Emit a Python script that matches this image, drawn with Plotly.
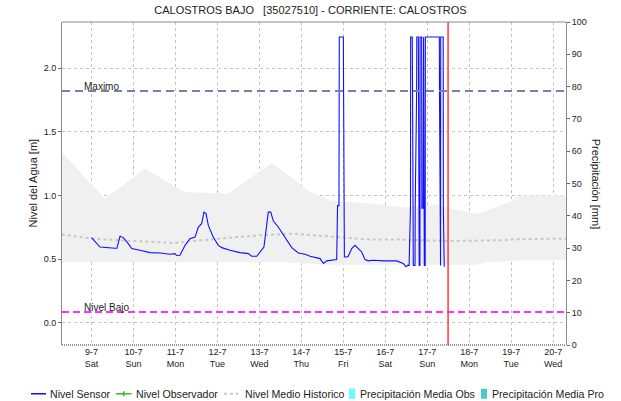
import pandas as pd
import plotly.graph_objects as go

BASE = pd.Timestamp("2022-07-09 00:00")

# Nivel Sensor: hours after 9-7 00:00 and water level [m]
sensor_hours = [
    0.0, 4.9, 13.5, 14.5, 16.3, 18.2, 21.0, 23.0, 27.7, 33.5, 39.2, 44.9, 47.7, 48.7,
    50.6, 53.5, 56.3, 59.2, 61.1, 63.0, 64.3, 65.5, 66.8, 69.6, 72.5, 74.5, 79.2, 84.9,
    89.7, 91.6, 94.5, 96.4, 98.6, 99.8, 101.1, 102.5, 104.0, 106.8, 109.7, 114.5, 118.3,
    122.1, 125.0, 130.7, 132.6, 134.5, 140.2,
    140.7, 141.5, 141.7, 144.0, 144.2, 144.6,
    145.9, 146.8, 148.8, 150.7, 152.6, 154.5, 156.4, 158.3, 161.1, 166.9, 174.5, 176.4,
    178.3, 179.8, 181.0, 181.6,
    182.4, 182.5, 183.4, 183.6, 184.0,
    185.0, 185.1, 185.9, 186.0, 186.9, 187.0, 187.4,
    187.8, 187.9, 188.8, 188.9, 189.6, 189.7, 189.9, 190.0, 190.3,
    190.8, 190.9, 198.9, 199.0, 199.3,
    199.6, 199.7, 201.1, 201.2, 201.7,
]
sensor_level = [
    0.669, 0.595, 0.585, 0.585, 0.679, 0.669, 0.622, 0.583, 0.569, 0.551, 0.548, 0.538, 0.543, 0.528,
    0.530, 0.608, 0.661, 0.673, 0.752, 0.778, 0.869, 0.857, 0.765, 0.673, 0.608, 0.590, 0.569, 0.551,
    0.543, 0.522, 0.522, 0.556, 0.595, 0.726, 0.869, 0.869, 0.799, 0.752, 0.687, 0.590, 0.548,
    0.538, 0.522, 0.504, 0.465, 0.486, 0.496,
    0.920, 0.920, 2.245, 2.245, 1.810, 0.517,
    0.517, 0.522, 0.583, 0.608, 0.583, 0.556, 0.496, 0.486, 0.491, 0.486, 0.486, 0.473,
    0.465, 0.440, 0.452, 0.450,
    0.900, 2.245, 2.245, 1.800, 0.450,
    0.450, 0.900, 1.800, 2.245, 2.245, 0.900, 0.450,
    0.450, 2.245, 2.245, 0.900, 0.900, 2.245, 2.245, 1.800, 0.450,
    0.450, 2.245, 2.245, 1.800, 0.450,
    0.450, 2.245, 2.245, 0.900, 0.440,
]

# Nivel historico: envelope and mean [m]
hist_upper_hours = [-17.0, 7.7, 30.6, 53.5, 78.1, 103.2, 125.0, 136.4, 159.3, 179.3,
                    196.4, 205.0, 221.0, 239.3, 245.0, 272.0]
hist_upper = [1.34, 0.975, 1.21, 1.026, 1.015, 1.256, 1.03, 0.96, 0.937, 0.905,
              0.93, 0.90, 0.857, 0.948, 1.0, 1.0]
hist_lower_hours = [-17.0, 110.0, 135.0, 215.0, 219.3, 227.9, 245.0, 272.0]
hist_lower = [0.475, 0.475, 0.455, 0.45, 0.455, 0.478, 0.49, 0.49]
hist_mean_hours = [-17.0, 0.0, 16.3, 46.6, 73.5, 96.4, 115.2, 136.4, 159.3, 176.4,
                   205.0, 233.6, 245.0, 272.0]
hist_mean = [0.693, 0.661, 0.648, 0.627, 0.661, 0.687, 0.70, 0.68, 0.653, 0.653,
             0.642, 0.648, 0.658, 0.66]

# Precipitation series (no rain recorded in this period)
precip_obs_hours, precip_obs = [], []
precip_pro_hours, precip_pro = [], []

nivel_maximo = 1.82
nivel_bajo = 0.085
corte_hours = 203.9

x_start_hours, x_end_hours = -16.87, 271.33
y_left_range = [-0.175, 2.363]
y_right_range = [0, 100]

TITLE = "CALOSTROS BAJO\u00a0\u00a0\u00a0[35027510] - CORRIENTE: CALOSTROS"
FONT = "Liberation Sans, Arial, sans-serif"
TXT = "#222222"
GRID = "#c4c4c4"


def to_time(hours):
    return [BASE + pd.Timedelta(hours=h) for h in hours]


fig = go.Figure()

# historical envelope
fig.add_trace(go.Scatter(x=to_time(hist_lower_hours), y=hist_lower, mode="lines",
                         line=dict(width=0, color="#f0f0f0"), showlegend=False, hoverinfo="skip"))
fig.add_trace(go.Scatter(x=to_time(hist_upper_hours), y=hist_upper, mode="lines",
                         line=dict(width=0, color="#f0f0f0"), fill="tonexty",
                         fillcolor="#f0f0f0", showlegend=False, hoverinfo="skip"))

fig.add_trace(go.Bar(x=to_time(precip_obs_hours), y=precip_obs, yaxis="y2",
                     marker_color="#66ffff", name="Precipitación Media Obs", showlegend=False))
fig.add_trace(go.Bar(x=to_time(precip_pro_hours), y=precip_pro, yaxis="y2",
                     marker_color="#44cccc", name="Precipitación Media Pro", showlegend=False))

fig.add_trace(go.Scatter(x=to_time(hist_mean_hours), y=hist_mean, mode="lines",
                         line=dict(color="#c8c8c8", width=2, dash="3px,3px"),
                         name="Nivel Medio Historico", showlegend=False))

fig.add_trace(go.Scatter(x=to_time(sensor_hours), y=sensor_level, mode="lines",
                         line=dict(color="#1010ff", width=1.1),
                         name="Nivel Sensor", showlegend=False))

# reference levels
t0, t1 = to_time([x_start_hours, x_end_hours])
fig.add_shape(type="line", xref="x", yref="y", x0=t0, x1=t1, y0=nivel_maximo, y1=nivel_maximo,
              line=dict(color="#7482ad", width=2, dash="8px,5px"))
fig.add_shape(type="line", xref="x", yref="y", x0=t0, x1=t1, y0=nivel_bajo, y1=nivel_bajo,
              line=dict(color="#ff33ff", width=2, dash="7px,4px"))
fig.add_annotation(x=0.04, xref="paper", xanchor="left", y=nivel_maximo, yref="y",
                   yanchor="bottom", yshift=-3, text="Maximo", showarrow=False,
                   font=dict(size=10, color=TXT, family=FONT))
fig.add_annotation(x=0.04, xref="paper", xanchor="left", y=nivel_bajo, yref="y",
                   yanchor="bottom", yshift=-3, text="Nivel Bajo", showarrow=False,
                   font=dict(size=10, color=TXT, family=FONT))

# current time marker
tc = to_time([corte_hours])[0]
fig.add_shape(type="line", xref="x", yref="paper", x0=tc, x1=tc, y0=0, y1=1,
              line=dict(color="#ff3b3b", width=1.5))

# frame: top border and dotted bottom axis
fig.add_shape(type="line", xref="paper", yref="paper", x0=0, x1=1, y0=1, y1=1,
              line=dict(color="#8a8a8a", width=1))
fig.add_shape(type="line", xref="paper", yref="paper", x0=0, x1=1, y0=0, y1=0,
              line=dict(color="#333333", width=1, dash="1px,1px"))

# axis titles
fig.add_annotation(x=-0.0595, xref="paper", xanchor="center", y=0.5, yref="paper",
                   yanchor="middle", text="Nivel del Agua [m]", textangle=-90,
                   showarrow=False, font=dict(size=11, color=TXT, family=FONT))
fig.add_annotation(x=1.061, xref="paper", xanchor="center", y=0.5, yref="paper",
                   yanchor="middle", text="Precipitación [mm]", textangle=90,
                   showarrow=False, font=dict(size=11, color=TXT, family=FONT))

# legend drawn along the bottom
leg_y = -0.151
def px(v):
    return (v - 62) / 504

legend_items = [
    ("line", 31, 46, "#1010ff", "Nivel Sensor", 48),
    ("line", 116, 131.5, "#33bb33", "Nivel Observador", 133.5),
    ("dot", 224, 238, "#c8c8c8", "Nivel Medio Historico", 242.5),
    ("box", 349, 355, "#66ffff", "Precipitación Media Obs", 358),
    ("box", 481, 487, "#44cccc", "Precipitación Media Pro", 490),
]
for kind, a, b, col, label, tx in legend_items:
    if kind == "line":
        fig.add_shape(type="line", xref="paper", yref="paper", x0=px(a), x1=px(b),
                      y0=leg_y, y1=leg_y, line=dict(color=col, width=1.5))
    elif kind == "dot":
        fig.add_shape(type="line", xref="paper", yref="paper", x0=px(a), x1=px(b),
                      y0=leg_y, y1=leg_y, line=dict(color=col, width=2, dash="3px,3px"))
    else:
        fig.add_shape(type="rect", xref="paper", yref="paper", x0=px(a), x1=px(b),
                      y0=leg_y - 5 / 323, y1=leg_y + 5 / 323, line=dict(width=0), fillcolor=col)
    fig.add_annotation(x=px(tx), xref="paper", xanchor="left", y=leg_y, yref="paper",
                       yanchor="middle", text=label, showarrow=False,
                       font=dict(size=10.6, color=TXT, family=FONT))
# observer marker in the legend
mid = px(123.75)
fig.add_shape(type="line", xref="paper", yref="paper", x0=mid, x1=mid,
              y0=leg_y - 2.5 / 323, y1=leg_y + 2.5 / 323, line=dict(color="#33bb33", width=1.5))

fig.update_layout(
    width=621, height=401,
    margin=dict(l=62, r=55, t=22, b=56),
    paper_bgcolor="white", plot_bgcolor="white",
    font=dict(family=FONT, size=9, color=TXT),
    showlegend=False,
    title=dict(text=TITLE, x=0.5, xref="container", xanchor="center",
               y=1 - 10 / 401, yref="container", yanchor="middle",
               font=dict(size=11, color=TXT, family=FONT)),
    xaxis=dict(type="date", range=[t0, t1], dtick=86400000, tick0="2022-07-09",
               tickformat="%-d-%-m<br>%a", showgrid=True, gridcolor=GRID, griddash="dot",
               gridwidth=1, showline=False, ticks="", zeroline=False,
               tickfont=dict(size=9, color=TXT)),
    yaxis=dict(range=y_left_range, dtick=0.5, tick0=0, tickformat=".1f", showgrid=True,
               gridcolor=GRID, griddash="dot", zeroline=False, showline=True,
               linecolor="#8a8a8a", linewidth=1, ticks="outside", ticklen=3,
               tickcolor="#666666", tickfont=dict(size=9, color=TXT)),
    yaxis2=dict(range=y_right_range, dtick=10, overlaying="y", side="right", showgrid=False,
                zeroline=False, showline=True, linecolor="#8a8a8a", linewidth=1,
                ticks="outside", ticklen=3, tickcolor="#666666",
                tickfont=dict(size=9, color=TXT)),
)

fig.write_html("out.html")
